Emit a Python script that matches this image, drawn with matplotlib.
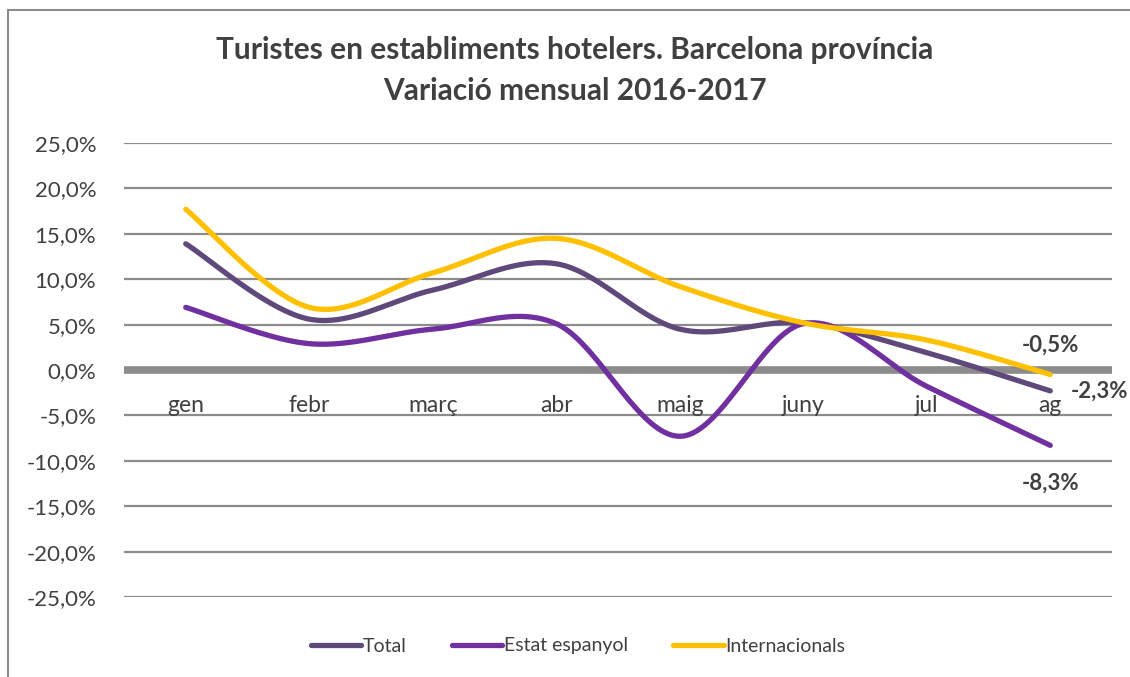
import numpy as np
import matplotlib
matplotlib.use("Agg")
import matplotlib.pyplot as plt
from matplotlib.patches import Rectangle
from matplotlib.lines import Line2D

months = ["gen", "febr", "març", "abr", "maig", "juny", "jul", "ag"]
total = [13.9, 5.6, 8.8, 11.7, 4.5, 5.2, 1.9, -2.3]
estat = [6.9, 2.9, 4.5, 5.1, -7.3, 5.1, -1.8, -8.3]
intern = [17.7, 6.9, 10.7, 14.5, 9.2, 5.2, 3.3, -0.5]
series_names = ["Total", "Estat espanyol", "Internacionals"]
colors = ["#5F497A", "#7030A0", "#FFC000"]
yticks = list(range(-25, 30, 5))

plt.rcParams['font.family'] = ['Lato', 'DejaVu Sans']
TXT = "#404040"


def smooth(xs, ys, n=40):
    p = np.column_stack([xs, ys]).astype(float)
    p_ext = np.vstack([p[0], p, p[-1]])
    out = []
    t = np.linspace(0, 1, n)
    for i in range(len(p) - 1):
        p0, p1, p2, p3 = p_ext[i], p_ext[i + 1], p_ext[i + 2], p_ext[i + 3]
        c1 = p1 + (p2 - p0) / 6.0
        c2 = p2 - (p3 - p1) / 6.0
        seg = ((1 - t) ** 3)[:, None] * p1 + (3 * (1 - t) ** 2 * t)[:, None] * c1 \
            + (3 * (1 - t) * t ** 2)[:, None] * c2 + (t ** 3)[:, None] * p2
        out.append(seg if i == 0 else seg[1:])
    s = np.vstack(out)
    return s[:, 0], s[:, 1]


fig = plt.figure(figsize=(11.3, 6.77), dpi=100)
fig.patches.append(Rectangle((8 / 1130, -0.1), 1.2, 1 - 10 / 677 + 0.1,
                             transform=fig.transFigure, fill=False,
                             edgecolor="#8C8C8C", linewidth=1.5))

ax = fig.add_axes([124 / 1130, 1 - 597 / 677, (1112 - 124) / 1130, (597 - 143) / 677])
ax.set_xlim(-0.5, len(months) - 0.5)
ax.set_ylim(-25, 25)
for s in ax.spines.values():
    s.set_visible(False)
ax.set_yticks(yticks)
ax.set_yticklabels([f"{v:.1f}%".replace(".", ",") for v in yticks], fontsize=16, color=TXT)
ax.tick_params(axis="y", length=0, pad=20)
ax.set_xticks([])
for v in yticks:
    if v != 0:
        ax.axhline(v, color="#8C8C8C", linewidth=1.6, zorder=1)
ax.axhline(0, color="#8C8C8C", linewidth=5.5, zorder=1)

x = np.arange(len(months))
for i, m in enumerate(months):
    ax.annotate(m, (i, 0), xytext=(0, -36), textcoords="offset pixels",
                ha="center", va="center", fontsize=16.5, color=TXT)

for name, vals, c in zip(series_names, [total, estat, intern], colors):
    sx, sy = smooth(x, vals)
    ax.plot(sx, sy, color=c, linewidth=3.8, solid_capstyle="round", zorder=3, label=name)

lab_kw = dict(textcoords="offset pixels", va="center", fontsize=16, fontweight="bold",
              color=TXT, annotation_clip=False)
ax.annotate("-0,5%", (7, intern[-1]), xytext=(0, 29), ha="center", **lab_kw)
ax.annotate("-2,3%", (7, total[-1]), xytext=(21, 0), ha="left", **lab_kw)
ax.annotate("-8,3%", (7, estat[-1]), xytext=(0, -38), ha="center", **lab_kw)

fig.text(575 / 1130, 1 - 50 / 677, "Turistes en establiments hotelers. Barcelona província",
         ha="center", va="center", fontsize=21.5, fontweight="bold", color=TXT)
fig.text(575 / 1130, 1 - 91 / 677, "Variació mensual 2016-2017",
         ha="center", va="center", fontsize=21.5, fontweight="bold", color=TXT)

handles = [Line2D([], [], color=c, linewidth=3.8, solid_capstyle="round") for c in colors]
leg = fig.legend(handles, series_names, loc="center", bbox_to_anchor=(578 / 1130, 1 - 646 / 677),
                 ncol=3, frameon=False, fontsize=14, handlelength=2.6, handletextpad=0.1,
                 columnspacing=2.3)
for t in leg.get_texts():
    t.set_color(TXT)

fig.savefig("out.png", dpi=100)
